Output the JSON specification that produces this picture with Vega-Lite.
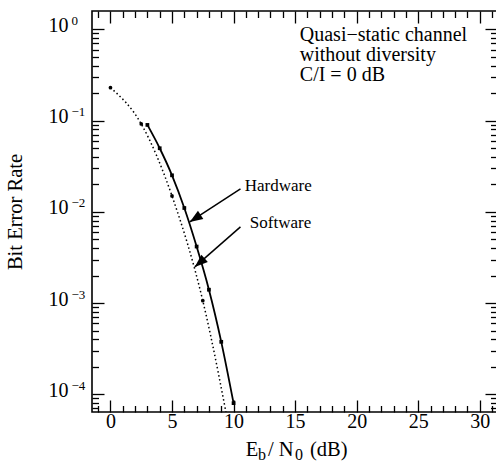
{
  "$schema": "https://vega.github.io/schema/vega-lite/v6.json",
  "width": 405,
  "height": 401,
  "autosize": {"type": "none"},
  "padding": {"left": 92, "top": 11, "right": 0, "bottom": 50},
  "config": {
    "font": "Liberation Serif",
    "view": {"stroke": "black", "strokeWidth": 1.6},
    "axis": {
      "domain": false,
      "grid": false,
      "labelColor": "black",
      "titleColor": "black",
      "tickColor": "black",
      "tickWidth": 1.3,
      "labelFlush": false,
      "labelOverlap": false,
      "labelBound": false,
      "titleFontWeight": "normal",
      "labelFontWeight": "normal"
    }
  },
  "datasets": {
    "curves": [
      {"series": "Hardware", "ebn0": 3, "ber": 0.0895},
      {"series": "Hardware", "ebn0": 4, "ber": 0.0497},
      {"series": "Hardware", "ebn0": 5, "ber": 0.0251},
      {"series": "Hardware", "ebn0": 6, "ber": 0.011},
      {"series": "Hardware", "ebn0": 7, "ber": 0.00416},
      {"series": "Hardware", "ebn0": 8, "ber": 0.0014},
      {"series": "Hardware", "ebn0": 9, "ber": 0.000376},
      {"series": "Hardware", "ebn0": 10, "ber": 0.00008},
      {"series": "Software", "ebn0": 0, "ber": 0.229},
      {"series": "Software", "ebn0": 2.5, "ber": 0.0918},
      {"series": "Software", "ebn0": 5, "ber": 0.0149},
      {"series": "Software", "ebn0": 7.5, "ber": 0.00106},
      {"series": "Software", "ebn0": 10, "ber": 0.000023}
    ],
    "notes": [
      {"kind": "box", "text": ["Quasi−static channel", "without diversity", "C/I = 0 dB"], "x": 15.38, "y": 0.745},
      {"kind": "label", "text": "Hardware", "x": 10.91, "y": 0.01694},
      {"kind": "label", "text": "Software", "x": 11.32, "y": 0.00666}
    ],
    "arrows": [
      {"arrow": "Hardware", "x": 10.56, "y": 0.0178, "x2": 6.44, "y2": 0.00775},
      {"arrow": "Software", "x": 10.56, "y": 0.00683, "x2": 6.85, "y2": 0.00249}
    ]
  },
  "resolve": {"axis": {"x": "independent", "y": "independent"}},
  "layer": [
    {
      "data": {"name": "curves"},
      "transform": [{"filter": "datum.series === 'Hardware'"}],
      "mark": {"type": "line", "color": "black", "strokeWidth": 1.8, "interpolate": "monotone"},
      "encoding": {
        "x": {"field": "ebn0", "type": "quantitative",
          "scale": {"domain": [-1.5, 31.4], "nice": false, "zero": false},
          "axis": {"orient": "bottom", "values": [0, 5, 10, 15, 20, 25, 30], "ticks": false,
            "labelFontSize": 20, "labelBaseline": "alphabetic", "labelPadding": 15,
            "title": "E", "titleX": 153.2, "titleY": 43, "titleAlign": "left", "titleBaseline": "alphabetic", "titleFontSize": 20.5}},
        "y": {"field": "ber", "type": "quantitative",
          "scale": {"type": "log", "domain": [0.000064, 1.585], "nice": false},
          "axis": {"orient": "left", "values": [1, 0.1, 0.01, 0.001, 0.0001], "ticks": false,
            "labelExpr": "'10'", "labelAlign": "left", "labelBaseline": "alphabetic", "labelPadding": 44, "labelOffset": 2, "labelFontSize": 20,
            "title": "Bit Error Rate", "titleAngle": -90, "titleX": -71, "titleY": 200.5, "titleAlign": "center", "titleBaseline": "alphabetic", "titleFontSize": 20.5}}
      }
    },
    {
      "data": {"name": "curves"},
      "transform": [{"filter": "datum.series === 'Hardware'"}],
      "mark": {"type": "point", "shape": "square", "filled": true, "color": "black", "size": 14, "opacity": 1},
      "encoding": {
        "x": {"field": "ebn0", "type": "quantitative",
          "scale": {"domain": [-1.5, 31.4], "nice": false, "zero": false},
          "axis": {"orient": "bottom", "values": [0, 5, 10, 15, 20, 25, 30], "labels": false, "tickSize": -12,
            "title": "b", "titleX": 165.5, "titleY": 47, "titleAlign": "left", "titleBaseline": "alphabetic", "titleFontSize": 16}},
        "y": {"field": "ber", "type": "quantitative",
          "scale": {"type": "log", "domain": [0.000064, 1.585], "nice": false},
          "axis": {"orient": "left", "values": [1, 0.1, 0.01, 0.001, 0.0001], "ticks": false,
            "labelExpr": "datum.value >= 1 ? '0' : '−' + round(-log(datum.value) / LN10)",
            "labelAlign": "left", "labelBaseline": "alphabetic", "labelPadding": 21, "labelOffset": -5, "labelFontSize": 13,
            "title": null}}
      }
    },
    {
      "data": {"name": "curves"},
      "transform": [{"filter": "datum.series === 'Software'"}],
      "mark": {"type": "line", "color": "black", "strokeWidth": 1.5, "strokeDash": [1.5, 2.6], "interpolate": "monotone", "clip": true},
      "encoding": {
        "x": {"field": "ebn0", "type": "quantitative",
          "scale": {"domain": [-1.5, 31.4], "nice": false, "zero": false},
          "axis": {"orient": "bottom", "values": [-1, 1, 2, 3, 4, 6, 7, 8, 9, 11, 12, 13, 14, 16, 17, 18, 19, 21, 22, 23, 24, 26, 27, 28, 29, 31],
            "labels": false, "tickSize": -6.5,
            "title": "/ N", "titleX": 175.5, "titleY": 43, "titleAlign": "left", "titleBaseline": "alphabetic", "titleFontSize": 20.5}},
        "y": {"field": "ber", "type": "quantitative",
          "scale": {"type": "log", "domain": [0.000064, 1.585], "nice": false},
          "axis": {"orient": "left", "values": [1, 0.1, 0.01, 0.001, 0.0001], "labels": false, "tickSize": -12, "title": null}}
      }
    },
    {
      "data": {"name": "curves"},
      "transform": [{"filter": "datum.series === 'Software'"}],
      "mark": {"type": "circle", "color": "black", "size": 14, "opacity": 1, "clip": true},
      "encoding": {
        "x": {"field": "ebn0", "type": "quantitative",
          "scale": {"domain": [-1.5, 31.4], "nice": false, "zero": false},
          "axis": {"orient": "bottom", "values": [], "labels": false, "ticks": false,
            "title": "0", "titleX": 202.5, "titleY": 47, "titleAlign": "left", "titleBaseline": "alphabetic", "titleFontSize": 16}},
        "y": {"field": "ber", "type": "quantitative",
          "scale": {"type": "log", "domain": [0.000064, 1.585], "nice": false},
          "axis": {"orient": "left",
            "values": [0.00007, 0.00008, 0.00009, 0.0002, 0.0003, 0.0004, 0.0005, 0.0006, 0.0007, 0.0008, 0.0009, 0.002, 0.003, 0.004, 0.005, 0.006, 0.007, 0.008, 0.009, 0.02, 0.03, 0.04, 0.05, 0.06, 0.07, 0.08, 0.09, 0.2, 0.3, 0.4, 0.5, 0.6, 0.7, 0.8, 0.9],
            "labels": false, "tickSize": -6.5, "title": null}}
      }
    },
    {
      "data": {"name": "notes"},
      "transform": [{"filter": "datum.kind === 'box'"}],
      "mark": {"type": "text", "align": "left", "baseline": "alphabetic", "fontSize": 20, "lineHeight": 20, "color": "black"},
      "encoding": {
        "text": {"field": "text"},
        "x": {"field": "x", "type": "quantitative",
          "scale": {"domain": [-1.5, 31.4], "nice": false, "zero": false},
          "axis": {"orient": "bottom", "values": [], "labels": false, "ticks": false,
            "title": "(dB)", "titleX": 217.5, "titleY": 43, "titleAlign": "left", "titleBaseline": "alphabetic", "titleFontSize": 20.5}},
        "y": {"field": "y", "type": "quantitative",
          "scale": {"type": "log", "domain": [0.000064, 1.585], "nice": false},
          "axis": {"orient": "right", "values": [1, 0.1, 0.01, 0.001, 0.0001], "labels": false, "tickSize": -12, "title": null}}
      }
    },
    {
      "data": {"name": "notes"},
      "transform": [{"filter": "datum.kind === 'label'"}],
      "mark": {"type": "text", "align": "left", "baseline": "alphabetic", "fontSize": 17, "color": "black"},
      "encoding": {
        "text": {"field": "text"},
        "x": {"field": "x", "type": "quantitative",
          "scale": {"domain": [-1.5, 31.4], "nice": false, "zero": false},
          "axis": {"orient": "top", "values": [0, 5, 10, 15, 20, 25, 30], "labels": false, "tickSize": -12, "title": null}},
        "y": {"field": "y", "type": "quantitative",
          "scale": {"type": "log", "domain": [0.000064, 1.585], "nice": false},
          "axis": {"orient": "right",
            "values": [0.00007, 0.00008, 0.00009, 0.0002, 0.0003, 0.0004, 0.0005, 0.0006, 0.0007, 0.0008, 0.0009, 0.002, 0.003, 0.004, 0.005, 0.006, 0.007, 0.008, 0.009, 0.02, 0.03, 0.04, 0.05, 0.06, 0.07, 0.08, 0.09, 0.2, 0.3, 0.4, 0.5, 0.6, 0.7, 0.8, 0.9],
            "labels": false, "tickSize": -6.5, "title": null}}
      }
    },
    {
      "data": {"name": "arrows"},
      "mark": {"type": "rule", "color": "black", "strokeWidth": 1.5},
      "encoding": {
        "x": {"field": "x", "type": "quantitative",
          "scale": {"domain": [-1.5, 31.4], "nice": false, "zero": false},
          "axis": {"orient": "top", "values": [-1, 1, 2, 3, 4, 6, 7, 8, 9, 11, 12, 13, 14, 16, 17, 18, 19, 21, 22, 23, 24, 26, 27, 28, 29, 31],
            "labels": false, "tickSize": -6.5, "title": null}},
        "y": {"field": "y", "type": "quantitative",
          "scale": {"type": "log", "domain": [0.000064, 1.585], "nice": false}, "axis": null},
        "x2": {"field": "x2"},
        "y2": {"field": "y2"}
      }
    },
    {
      "data": {"name": "arrows"},
      "mark": {"type": "point", "shape": "M0,0L-0.38,1L0.38,1Z", "filled": true, "color": "black", "opacity": 1, "size": 676},
      "encoding": {
        "x": {"field": "x2", "type": "quantitative",
          "scale": {"domain": [-1.5, 31.4], "nice": false, "zero": false}, "axis": null},
        "y": {"field": "y2", "type": "quantitative",
          "scale": {"type": "log", "domain": [0.000064, 1.585], "nice": false}, "axis": null},
        "angle": {"condition": {"test": "datum.arrow === 'Hardware'", "value": 237}, "value": 229}
      }
    }
  ]
}
